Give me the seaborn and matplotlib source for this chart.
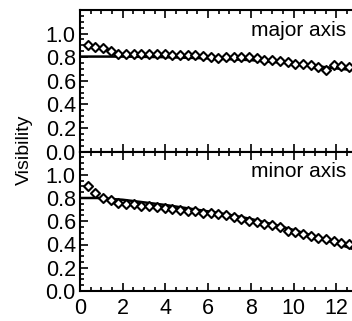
import matplotlib
matplotlib.use("Agg")
import matplotlib.pyplot as plt
import seaborn as sns
import numpy as np
import pandas as pd
from matplotlib.ticker import MultipleLocator

# Observed visibilities (diamonds)
obs_x = [0.36, 0.72, 1.08, 1.44, 1.80, 2.16, 2.52, 2.88, 3.24, 3.60, 3.96, 4.32,
         4.68, 5.04, 5.40, 5.76, 6.12, 6.48, 6.84, 7.20, 7.56, 7.92, 8.28, 8.64,
         9.00, 9.36, 9.72, 10.08, 10.44, 10.80, 11.16, 11.52, 11.88, 12.24, 12.60]
major_obs = [0.90, 0.885, 0.875, 0.85, 0.83, 0.825, 0.825, 0.825, 0.825, 0.825, 0.825, 0.82,
             0.82, 0.82, 0.815, 0.81, 0.80, 0.795, 0.80, 0.805, 0.805, 0.80, 0.79, 0.78,
             0.775, 0.765, 0.755, 0.745, 0.74, 0.73, 0.72, 0.69, 0.735, 0.725, 0.715]
minor_obs = [0.90, 0.84, 0.80, 0.78, 0.76, 0.75, 0.745, 0.735, 0.73, 0.72, 0.715, 0.705,
             0.70, 0.69, 0.686, 0.675, 0.67, 0.665, 0.655, 0.64, 0.62, 0.605, 0.59, 0.58,
             0.565, 0.55, 0.52, 0.505, 0.49, 0.475, 0.46, 0.445, 0.43, 0.415, 0.405]

# Model curves (solid lines)
model_x = [0.0, 0.8, 1.0, 2.0, 4.0, 6.0, 7.0, 8.0, 9.0, 10.0, 11.0, 12.0, 12.8, 14.0]
major_model = [0.805, 0.805, 0.805, 0.805, 0.80, 0.79, 0.783, 0.775, 0.76, 0.745, 0.725, 0.705, 0.69, 0.67]
minor_model = [0.80, 0.80, 0.798, 0.785, 0.74, 0.685, 0.655, 0.62, 0.575, 0.525, 0.47, 0.41, 0.36, 0.30]

panel_labels = ["major axis", "minor axis"]
y_ticks = [0.0, 0.2, 0.4, 0.6, 0.8, 1.0]
x_ticks = [0, 2, 4, 6, 8, 10, 12]

sns.set_style("ticks")
plt.rcParams["font.family"] = ["Liberation Sans", "DejaVu Sans"]
plt.rcParams["text.color"] = "black"
plt.rcParams["xtick.color"] = "black"
plt.rcParams["ytick.color"] = "black"
plt.rcParams["axes.edgecolor"] = "black"

W, H = 352, 321
fig = plt.figure(figsize=(W / 100, H / 100), dpi=100)

x0 = 80 / W
xmax = 14.0
width = (21.35 * xmax) / W
top_ax = fig.add_axes([x0, 1 - 151.5 / H, width, (151.5 - 10) / H])
bot_ax = fig.add_axes([x0, 1 - 291 / H, width, (291 - 151.5) / H])

for ax, obs, model, lab in [(top_ax, major_obs, major_model, panel_labels[0]),
                            (bot_ax, minor_obs, minor_model, panel_labels[1])]:
    dfm = pd.DataFrame({"x": model_x, "y": model})
    dfo = pd.DataFrame({"x": obs_x, "y": obs})
    sns.lineplot(data=dfm, x="x", y="y", ax=ax, color="black", lw=1.8)
    sns.scatterplot(data=dfo, x="x", y="y", ax=ax, marker="D", s=21,
                    facecolor="white", edgecolor="black", linewidth=1.5, zorder=3)
    ax.set_xlim(0, xmax)
    ax.set_ylim(0, 1.2)
    ax.set_yticks(y_ticks)
    ax.set_yticklabels([f"{v:.1f}" for v in y_ticks])
    ax.yaxis.set_minor_locator(MultipleLocator(0.05))
    ax.set_xticks(x_ticks)
    ax.xaxis.set_minor_locator(MultipleLocator(0.5))
    ax.tick_params(which="both", direction="in", top=True, right=True, width=1.2,
                   labelsize=15.5, pad=3)
    ax.tick_params(which="major", length=6)
    ax.tick_params(which="minor", length=3)
    for s in ax.spines.values():
        s.set_linewidth(1.5)
    ax.set_xlabel("")
    ax.set_ylabel("")
    ax.text(12.45, 1.03, lab, ha="right", va="center", fontsize=15)

top_ax.tick_params(labelbottom=False)
bot_ax.tick_params(axis="x", pad=5)
fig.text(24 / W, 1 - 150 / H, "Visibility", rotation=90, ha="center", va="center", fontsize=14)

fig.savefig("out.png", dpi=100)
